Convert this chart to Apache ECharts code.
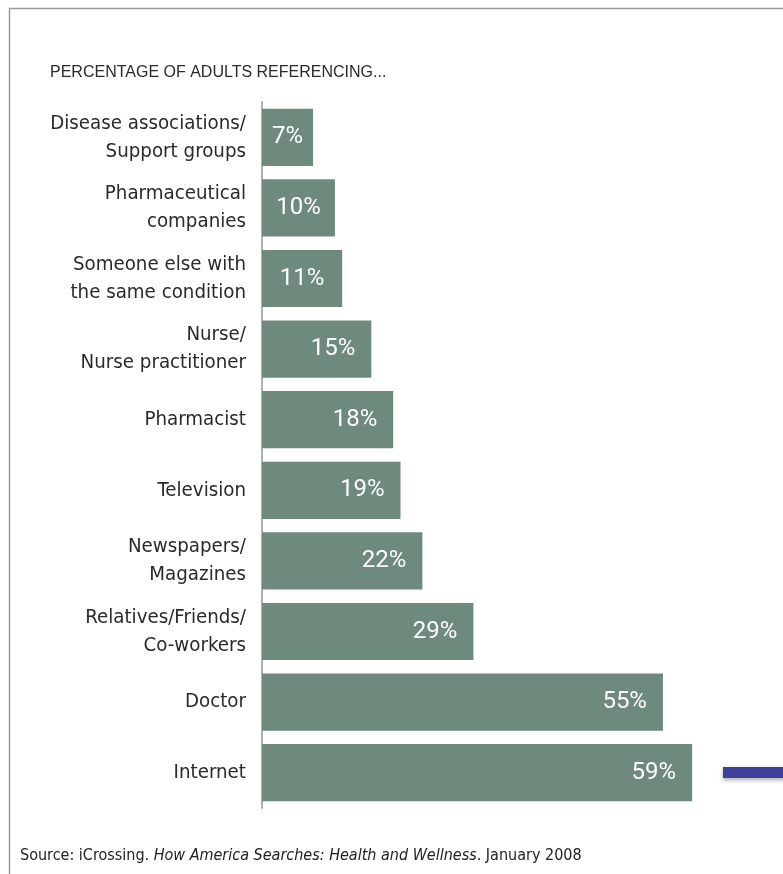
<!DOCTYPE html>
<html>
<head>
<meta charset="utf-8">
<script src="https://cdn.jsdelivr.net/npm/echarts@6/dist/echarts.min.js"></script>
<style>
html,body{margin:0;padding:0;background:#fff;}
#chart{width:783px;height:874px;}
</style>
</head>
<body>
<div id="chart"></div>
<script>
const categories = [
  "Disease associations/\nSupport groups",
  "Pharmaceutical\ncompanies",
  "Someone else with\nthe same condition",
  "Nurse/\nNurse practitioner",
  "Pharmacist",
  "Television",
  "Newspapers/\nMagazines",
  "Relatives/Friends/\nCo-workers",
  "Doctor",
  "Internet"
];
const values = [7, 10, 11, 15, 18, 19, 22, 29, 55, 59];
const titleText = "PERCENTAGE OF ADULTS REFERENCING...";

const condensed = '"Liberation Sans Narrow", "DejaVu Sans Condensed", Roboto, sans-serif';

const chart = echarts.init(document.getElementById('chart'));
const data = values.map(v => ({
  value: v,
  label: v >= 15
    ? { position: 'insideRight', distance: 16 }
    : { position: 'inside' }
}));

chart.setOption({
  animation: false,
  backgroundColor: '#fff',
  title: {
    text: titleText,
    left: 50, top: 65, padding: 0,
    textStyle: { fontFamily: '"Liberation Sans", Arial, sans-serif', fontSize: 16, fontWeight: 'normal', color: '#2a2a2a' }
  },
  grid: { left: 262, top: 102, width: 437.4, height: 706 },
  xAxis: {
    type: 'value', min: 0, max: 60,
    show: false
  },
  yAxis: {
    type: 'category',
    inverse: true,
    data: categories,
    axisLine: { show: true, lineStyle: { color: '#b0b0b0', width: 2 } },
    axisTick: { show: false },
    axisLabel: {
      margin: 16,
      fontFamily: condensed,
      fontSize: 20.3,
      lineHeight: 28,
      padding: [9, 0, 0, 0],
      color: '#2a2a2a',
      align: 'right'
    }
  },
  series: [{
    type: 'bar',
    data: data,
    barCategoryGap: '19%',
    itemStyle: { color: '#6e8a7c' },
    label: {
      show: true,
      formatter: '{c}%',
      color: '#fff',
      fontFamily: 'Roboto, sans-serif',
      fontSize: 24
    }
  }],
  graphic: [
    { type: 'line', shape: { x1: 9, y1: 8.5, x2: 783, y2: 8.5 }, style: { stroke: '#9a9a9a', lineWidth: 1.5 } },
    { type: 'line', shape: { x1: 9.5, y1: 8, x2: 9.5, y2: 874 }, style: { stroke: '#9a9a9a', lineWidth: 1.5 } },
    { type: 'rect', shape: { x: 723, y: 767, width: 62, height: 11 },
      style: { fill: '#3d3f9b', shadowColor: 'rgba(0,0,0,0.35)', shadowBlur: 4, shadowOffsetY: 2 } },
    { type: 'text', left: 20, top: 848,
      style: {
        text: '{n|Source: iCrossing. }{i|How America Searches: Health and Wellness}{n|. January 2008}',
        rich: {
          n: { fontFamily: condensed, fontSize: 16, fill: '#222', color: '#222' },
          i: { fontFamily: condensed, fontSize: 16, fontStyle: 'italic', fill: '#222', color: '#222' }
        }
      }
    }
  ]
});
</script>
</body>
</html>
